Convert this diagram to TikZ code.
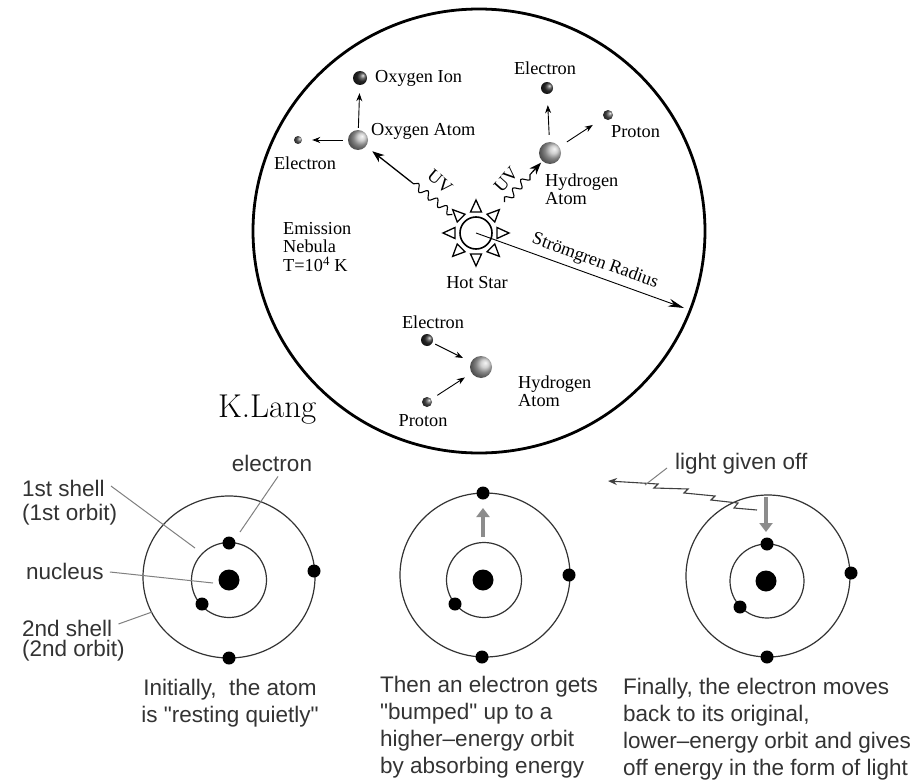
\documentclass[tikz,border=0pt]{standalone}
\usepackage{fontspec}
\newfontfamily\nebfont{Liberation Serif}
\newfontfamily\atomfont{Liberation Sans}
\usetikzlibrary{arrows.meta,decorations.pathmorphing,calc}
\begin{document}
\begin{tikzpicture}[x=1pt,y=-1pt,
  lbl/.style={font=\nebfont\fontsize{18.3}{18.5}\selectfont, inner sep=0pt, align=left},
  blbl/.style={font=\atomfont\fontsize{22.5}{27}\selectfont, text=black!80, inner sep=0pt},
  atom/.style={circle, inner sep=0pt, minimum size=#1, ball color=gray!50, shading angle=-90},
  particle/.style={circle, inner sep=0pt, minimum size=#1, ball color=black!80, shading angle=-90},
  arr/.style={-{Stealth[length=8,width=6]}, line width=0.9},
  uvwave/.style={decorate, decoration={snake, amplitude=3.5, segment length=12}, line width=1.1},
  uvhead/.style={-{Stealth[length=12,width=9]}, line width=1.3},
  orbit/.style={draw=black!80, line width=1.2},
  edot/.style={circle, fill=black, inner sep=0pt, minimum size=13},
  nucleus/.style={circle, fill=black, inner sep=0pt, minimum size=21},
  leader/.style={draw=black!50, line width=1},
  bump/.style={line width=4.5, draw=black!45, -{Triangle[length=9,width=13]}},
]
\useasboundingbox (0,0) rectangle (924,784);
\fill[white] (0,0) rectangle (924,784);

% ---------- emission nebula ----------
\draw[line width=2.8] (479,231) ellipse [x radius=226, y radius=222];

% hot star
\node[circle, draw, line width=1.6, minimum size=32, inner sep=0pt, fill=white] (star) at (476,233) {};
\begin{scope}[shift={(476,233)}]
  \foreach \a in {0,45,...,315}
    \draw[rotate=\a, fill=white, line width=1.3, line join=miter] (21,-5.5) -- (33,0) -- (21,5.5) -- cycle;
\end{scope}
\node[lbl] (hotstar) at (477,283) {Hot Star};

% oxygen branch
\node[atom=20] (oxatom) at (358,140) {};
\node[particle=14] (oxion) at (360,78) {};
\node[particle=8, ball color=black!60] (oxel) at (298,140) {};
\node[lbl, anchor=west] at (375,78) {Oxygen Ion};
\node[lbl, anchor=west] at (371,131) {Oxygen Atom};
\node[lbl] at (305,163) {Electron};
\draw[arr, shorten <=2, shorten >=8] (oxatom) -- (oxion);
\draw[arr, shorten <=5, shorten >=10] (oxatom) -- (oxel);

\draw[uvwave] ($(star.center)!30pt!(oxatom.center)$) -- ($(star.center)!83pt!(oxatom.center)$);
\draw[uvhead, shorten >=8] ($(star.center)!83pt!(oxatom.center)$) -- (oxatom);
\node[lbl, rotate=-40] (uv1) at (440,182) {UV};

% hydrogen branch
\node[atom=22] (hatom) at (550,153) {};
\node[particle=12] (hel) at (547,88) {};
\node[particle=10, ball color=black!65] (hpr) at (608,115) {};
\node[lbl] at (545,68) {Electron};
\node[lbl, anchor=west] at (611,132) {Proton};
\node[lbl, anchor=west] at (545,189) {Hydrogen\\Atom};
\draw[arr, shorten <=7, shorten >=11] (hatom) -- (hel);
\draw[arr, shorten <=9, shorten >=13] (hatom) -- (hpr);

\draw[uvwave] ($(star.center)!42pt!(hatom.center)$) -- ($(star.center)!84pt!(hatom.center)$);
\draw[uvhead, shorten >=2] ($(star.center)!84pt!(hatom.center)$) -- (hatom);
\node[lbl, rotate=48] (uv2) at (506,180) {UV};

% Stromgren radius
\coordinate (rim) at (684,308);
\draw[-{Stealth[length=16,width=8]}, line width=0.9] (star.center) -- (rim)
  node[lbl, pos=0.55, sloped, above=5pt] {Strömgren Radius};

\node[lbl, anchor=west] (nebula) at (283,247) {Emission\\Nebula\\T=10\textsuperscript{4} K};

% recombination
\node[atom=22] (hatom2) at (481,367) {};
\node[particle=12] (el2) at (427,340) {};
\node[particle=10, ball color=black!65] (pr2) at (427,402) {};
\node[lbl] at (433,322) {Electron};
\node[lbl] at (423,421) {Proton};
\node[lbl, anchor=west] at (518,391) {Hydrogen\\Atom};
\draw[arr, shorten <=3, shorten >=9] (el2) -- (hatom2);
\draw[arr, shorten <=7, shorten >=8] (pr2) -- (hatom2);

\node[font=\fontsize{33}{33}\selectfont, inner sep=0pt, anchor=base west] (klang) at (218,417) {K.Lang};

% ---------- atom 1: resting ----------
\draw[orbit] (229,577) ellipse [x radius=86, y radius=81];
\draw[orbit] (229,580) circle [radius=37.5];
\node[nucleus] (n1) at (229,580) {};
\node[edot] (a1e1) at (229,543) {};
\node[edot] (a1e2) at (202,604) {};
\node[edot] (a1e3) at (314,571) {};
\node[edot] (a1e4) at (229,658) {};

\node[blbl, anchor=west] (sh1) at (22,488) {1st shell};
\node[blbl, anchor=west] (sh1b) at (22,515) {(1st orbit)};
\node[blbl, anchor=west] (nuc) at (26,571) {nucleus};
\node[blbl, anchor=west] (sh2) at (22,628) {2nd shell};
\node[blbl, anchor=west] (sh2b) at (22,651) {(2nd orbit)};
\node[blbl] (elab) at (272,463) {electron};

\coordinate (p1) at (195,548);
\coordinate (p2) at (213,583);
\coordinate (p3) at (152,612);
\coordinate (p4) at (240,532);
\draw[leader] ($(sh1.east)+(6,-2)$) -- (p1);
\draw[leader] ($(nuc.east)+(6,1)$) -- (p2);
\draw[leader] ($(sh2.east)+(6,-4)$) -- (p3);
\draw[leader] ($(elab.south)+(6,5)$) -- (p4);

\node[blbl, align=center] (cap1) at (230,703) {Initially,\ \ the atom\\is "resting quietly"};

% ---------- atom 2: excited ----------
\draw[orbit] (485,575) ellipse [x radius=85, y radius=82];
\draw[orbit] (484,580) circle [radius=37.5];
\node[nucleus] (n2) at (483,580) {};
\node[edot] (a2e1) at (483,493) {};
\node[edot] (a2e2) at (455,604) {};
\node[edot] (a2e3) at (569,575) {};
\node[edot] (a2e4) at (482,657) {};
\coordinate (up0) at (483,537);
\coordinate (up1) at (483,508);
\draw[bump] (up0) -- (up1);

\node[blbl, align=left, anchor=north west] (cap2) at (380,676)
  {Then an electron gets\\"bumped" up to a\\higher–energy orbit\\by absorbing energy};

% ---------- atom 3: emission ----------
\draw[orbit] (768,576) ellipse [x radius=82, y radius=81];
\draw[orbit] (767,581) circle [radius=37];
\node[nucleus] (n3) at (766,581) {};
\node[edot] (a3e1) at (767,544) {};
\node[edot] (a3e2) at (740,607) {};
\node[edot] (a3e3) at (851,573) {};
\node[edot] (a3e4) at (767,657) {};
\coordinate (dn0) at (766,497);
\coordinate (dn1) at (766,532);
\draw[bump] (dn0) -- (dn1);

% light given off
\coordinate (lstart) at (757,510);
\coordinate (lend) at (608,481);
\draw[line width=1.1, black!75, line join=miter, -{Stealth[length=9,width=7]}]
  (lstart) -- (734,508) -- (738,503) -- (711,500) -- (715,496) -- (684,493)
  -- (688,489) -- (654,488) -- (658,484) -- (lend);
\node[blbl, anchor=west] (light) at (675,464) {light given off};
\coordinate (lp) at (645,485);
\draw[leader] ($(light.west)+(-8,4)$) -- (lp);

\node[blbl, align=left, anchor=north west] (cap3) at (623,678)
  {Finally, the electron moves\\back to its original,\\lower–energy orbit and gives\\off energy in the form of light};
\end{tikzpicture}
\end{document}
